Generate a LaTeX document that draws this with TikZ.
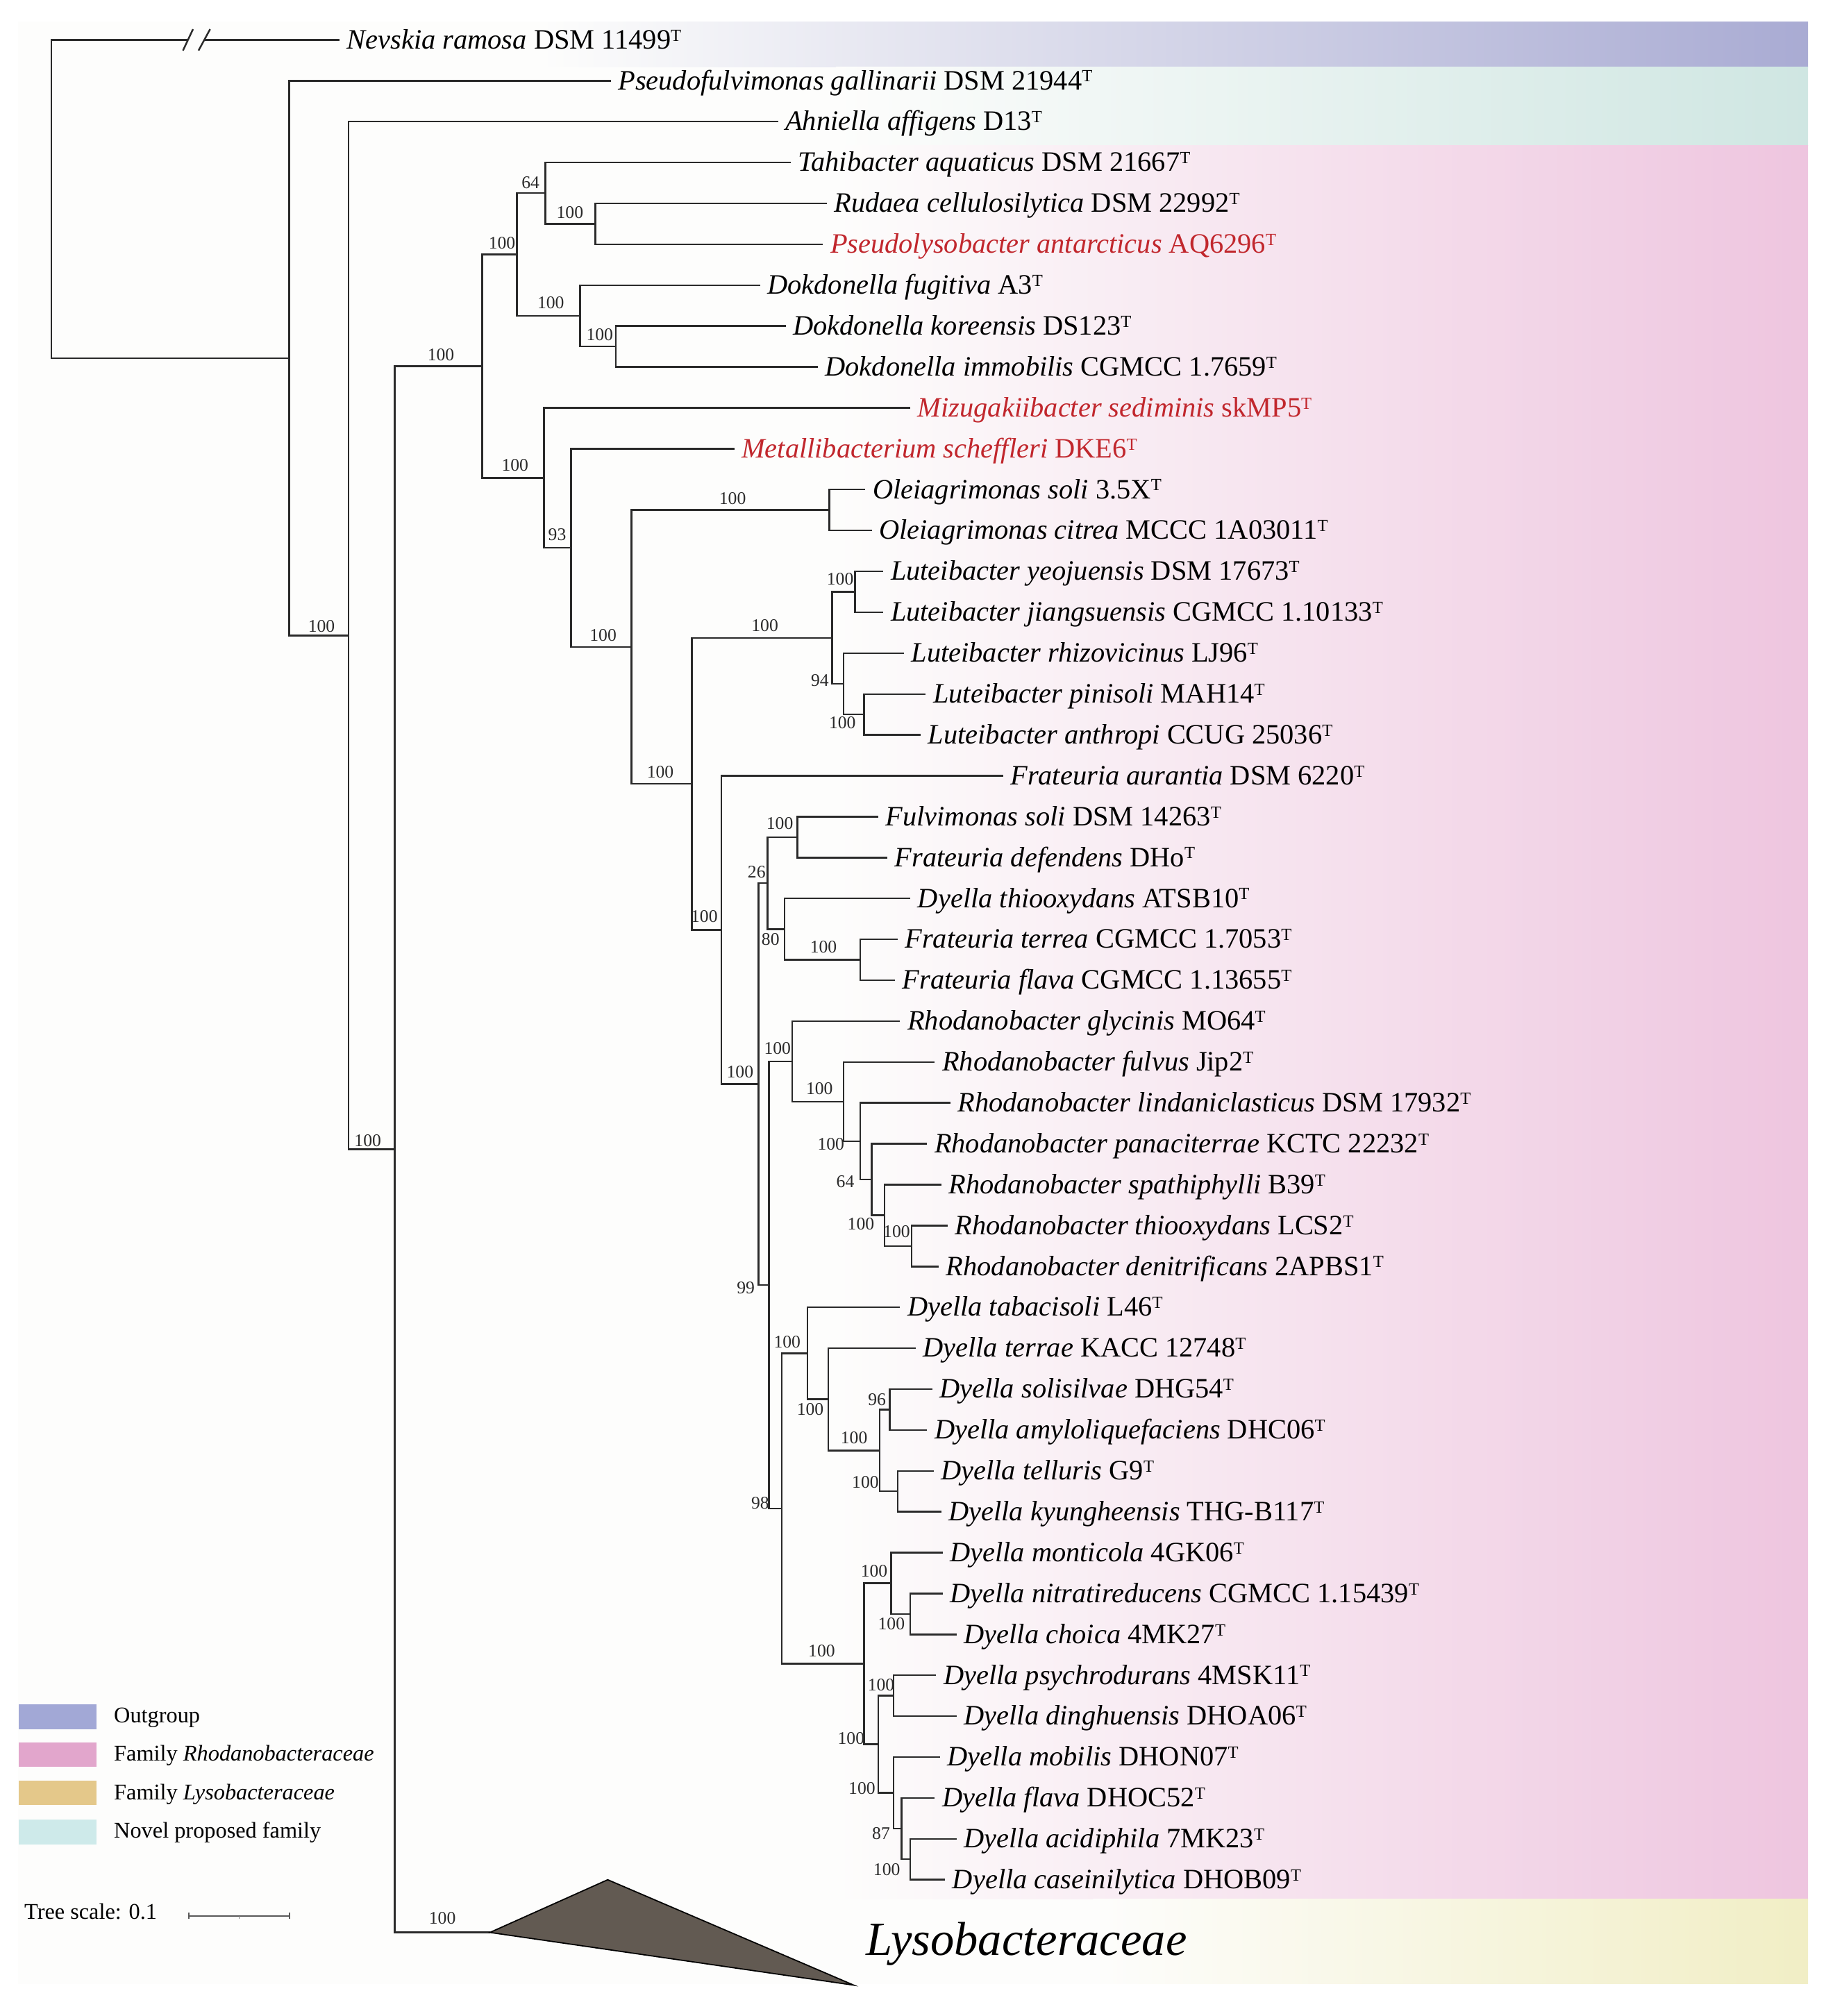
\documentclass[tikz,border=0pt]{standalone}
\usepackage{fontspec}
\setmainfont{Liberation Serif}
\usetikzlibrary{calc}
\definecolor{bgw}{HTML}{FDFDFC}
\definecolor{outc}{HTML}{A9ABD3}
\definecolor{novc}{HTML}{CFE6E2}
\definecolor{pinkc}{HTML}{EEC5DF}
\definecolor{yelc}{HTML}{F1EEC5}
\definecolor{legout}{HTML}{A2A8D6}
\definecolor{legpink}{HTML}{E2A6CC}
\definecolor{legtan}{HTML}{E4C88A}
\definecolor{legnov}{HTML}{CEEAEA}
\definecolor{redlab}{HTML}{C1272D}
\definecolor{triC}{HTML}{625A52}
\definecolor{brc}{HTML}{2A2A2A}
\tikzset{
  br/.style={draw=brc, line width=0.7pt},
  leaflab/.style={anchor=base west, inner sep=0pt, xshift=0.1cm, yshift=-0.128cm,
    font=\fontsize{11.5}{13}\selectfont},
  bslab/.style={inner sep=0pt, font=\fontsize{7.3}{8}\selectfont, text=brc},
  legtxt/.style={anchor=base west, inner sep=0pt, font=\fontsize{9.2}{11}\selectfont},
}
\newcommand\leafitem[5]{%
  \coordinate (#1) at (#2,#3);
  \node[leaflab,text=#4] (t#1) at (#1) {#5};}
\newcommand\bsl[4]{\node[bslab] (b#1) at (#2,#3) {#4};}
\newcommand\brn[2]{\draw[br] (#1) |- (#2);}
\newcommand\spn[2]{\textit{#1} #2\raisebox{0.6ex}{\fontsize{7}{8}\selectfont T}}
\begin{document}
\begin{tikzpicture}[x=0.018521cm, y=-0.018521cm]
\useasboundingbox (0,0) rectangle (1420,1568);
% backgrounds
\fill[bgw] (14,17) rectangle (1406,1543);
\shade[left color=bgw, right color=outc] (420,17) rectangle (1406,52);
\shade[left color=bgw, right color=novc] (650,52) rectangle (1406,113);
\shade[left color=bgw, right color=pinkc] (650,113) rectangle (1406,1477);
\shade[left color=bgw, right color=yelc] (850,1477) rectangle (1406,1543);

% internal nodes
\coordinate (root) at (40,154.8);
\coordinate (nA) at (225,278.5);
\coordinate (nB) at (271,494.3);
\coordinate (nC) at (307,893.9);
\coordinate (nD) at (375,284.8);
\coordinate (nE) at (402,197.95);
\coordinate (nG) at (424,150.25);
\coordinate (nH) at (463,174.1);
\coordinate (nI) at (451,245.65);
\coordinate (nJ) at (479,269.5);
\coordinate (nF) at (423,371.65);
\coordinate (nK) at (444,426.1);
\coordinate (nL) at (491,503.2);
\coordinate (nM) at (645,396.7);
\coordinate (nN) at (538,609.7);
\coordinate (nO) at (647,496.1);
\coordinate (nP) at (665,460.3);
\coordinate (nQ) at (656,531.85);
\coordinate (nR) at (672,555.7);
\coordinate (nS) at (561,723.3);
\coordinate (nT) at (590,843.15);
\coordinate (nV) at (597,686.9);
\coordinate (nW) at (620,651.1);
\coordinate (nX) at (610,722.65);
\coordinate (nY) at (669,746.5);
\coordinate (nU) at (598,999.4);
\coordinate (nBA) at (616,825.5);
\coordinate (nBB) at (656,856.8);
\coordinate (nBC) at (669,887.6);
\coordinate (nBD) at (678,917.4);
\coordinate (nBE) at (688,945.25);
\coordinate (nBF) at (709,969.1);
\coordinate (nZ) at (608,1173.3);
\coordinate (nAA) at (628,1052.6);
\coordinate (nAB) at (644,1088.35);
\coordinate (nAC) at (684,1128.1);
\coordinate (nAD) at (692,1096.3);
\coordinate (nAE) at (698,1159.9);
\coordinate (nAF) at (672,1294.05);
\coordinate (nAG) at (693,1231.45);
\coordinate (nAH) at (708,1255.3);
\coordinate (nAI) at (683,1356.65);
\coordinate (nAJ) at (695,1318.9);
\coordinate (nAK) at (695,1394.4);
\coordinate (nAL) at (701,1422.25);
\coordinate (nAM) at (708,1446.1);
\coordinate (lyso) at (381,1503);

% leaves
\leafitem{l1}{264}{31.0}{black}{\spn{Nevskia ramosa}{DSM 11499}}
\leafitem{l2}{475}{62.8}{black}{\spn{Pseudofulvimonas gallinarii}{DSM 21944}}
\leafitem{l3}{605}{94.6}{black}{\spn{Ahniella affigens}{D13}}
\leafitem{l4}{615}{126.4}{black}{\spn{Tahibacter aquaticus}{DSM 21667}}
\leafitem{l5}{643}{158.2}{black}{\spn{Rudaea cellulosilytica}{DSM 22992}}
\leafitem{l6}{640}{190.0}{redlab}{\spn{Pseudolysobacter antarcticus}{AQ6296}}
\leafitem{l7}{591}{221.8}{black}{\spn{Dokdonella fugitiva}{A3}}
\leafitem{l8}{611}{253.6}{black}{\spn{Dokdonella koreensis}{DS123}}
\leafitem{l9}{636}{285.4}{black}{\spn{Dokdonella immobilis}{CGMCC 1.7659}}
\leafitem{l10}{708}{317.2}{redlab}{\spn{Mizugakiibacter sediminis}{skMP5}}
\leafitem{l11}{571}{349.0}{redlab}{\spn{Metallibacterium scheffleri}{DKE6}}
\leafitem{l12}{673}{380.8}{black}{\spn{Oleiagrimonas soli}{3.5X}}
\leafitem{l13}{678}{412.6}{black}{\spn{Oleiagrimonas citrea}{MCCC 1A03011}}
\leafitem{l14}{687}{444.4}{black}{\spn{Luteibacter yeojuensis}{DSM 17673}}
\leafitem{l15}{687}{476.2}{black}{\spn{Luteibacter jiangsuensis}{CGMCC 1.10133}}
\leafitem{l16}{703}{508.0}{black}{\spn{Luteibacter rhizovicinus}{LJ96}}
\leafitem{l17}{720}{539.8}{black}{\spn{Luteibacter pinisoli}{MAH14}}
\leafitem{l18}{716}{571.6}{black}{\spn{Luteibacter anthropi}{CCUG 25036}}
\leafitem{l19}{780}{603.4}{black}{\spn{Frateuria aurantia}{DSM 6220}}
\leafitem{l20}{683}{635.2}{black}{\spn{Fulvimonas soli}{DSM 14263}}
\leafitem{l21}{690}{667.0}{black}{\spn{Frateuria defendens}{DHo}}
\leafitem{l22}{708}{698.8}{black}{\spn{Dyella thiooxydans}{ATSB10}}
\leafitem{l23}{698}{730.6}{black}{\spn{Frateuria terrea}{CGMCC 1.7053}}
\leafitem{l24}{696}{762.4}{black}{\spn{Frateuria flava}{CGMCC 1.13655}}
\leafitem{l25}{700}{794.2}{black}{\spn{Rhodanobacter glycinis}{MO64}}
\leafitem{l26}{727}{826.0}{black}{\spn{Rhodanobacter fulvus}{Jip2}}
\leafitem{l27}{739}{857.8}{black}{\spn{Rhodanobacter lindaniclasticus}{DSM 17932}}
\leafitem{l28}{721}{889.6}{black}{\spn{Rhodanobacter panaciterrae}{KCTC 22232}}
\leafitem{l29}{732}{921.4}{black}{\spn{Rhodanobacter spathiphylli}{B39}}
\leafitem{l30}{737}{953.2}{black}{\spn{Rhodanobacter thiooxydans}{LCS2}}
\leafitem{l31}{730}{985.0}{black}{\spn{Rhodanobacter denitrificans}{2APBS1}}
\leafitem{l32}{700}{1016.8}{black}{\spn{Dyella tabacisoli}{L46}}
\leafitem{l33}{712}{1048.6}{black}{\spn{Dyella terrae}{KACC 12748}}
\leafitem{l34}{725}{1080.4}{black}{\spn{Dyella solisilvae}{DHG54}}
\leafitem{l35}{721}{1112.2}{black}{\spn{Dyella amyloliquefaciens}{DHC06}}
\leafitem{l36}{726}{1144.0}{black}{\spn{Dyella telluris}{G9}}
\leafitem{l37}{732}{1175.8}{black}{\spn{Dyella kyungheensis}{THG-B117}}
\leafitem{l38}{733}{1207.6}{black}{\spn{Dyella monticola}{4GK06}}
\leafitem{l39}{733}{1239.4}{black}{\spn{Dyella nitratireducens}{CGMCC 1.15439}}
\leafitem{l40}{744}{1271.2}{black}{\spn{Dyella choica}{4MK27}}
\leafitem{l41}{728}{1303.0}{black}{\spn{Dyella psychrodurans}{4MSK11}}
\leafitem{l42}{744}{1334.8}{black}{\spn{Dyella dinghuensis}{DHOA06}}
\leafitem{l43}{731}{1366.6}{black}{\spn{Dyella mobilis}{DHON07}}
\leafitem{l44}{727}{1398.4}{black}{\spn{Dyella flava}{DHOC52}}
\leafitem{l45}{744}{1430.2}{black}{\spn{Dyella acidiphila}{7MK23}}
\leafitem{l46}{735}{1462.0}{black}{\spn{Dyella caseinilytica}{DHOB09}}

% root to Nevskia with break
\coordinate (brk1) at (146.2,31);
\coordinate (brk2) at (158.9,31);
\draw[br] (root) |- (brk1);
\draw[br] (brk2) -- (l1);
\draw[br] ($(brk1)+(-3.9,8.3)$) -- ($(brk1)+(3.9,-8.3)$);
\draw[br] ($(brk2)+(-4.5,8.3)$) -- ($(brk2)+(4.5,-8.3)$);

% branches
\brn{root}{nA}
\brn{nA}{l2} \brn{nA}{nB}
\brn{nB}{l3} \brn{nB}{nC}
\brn{nC}{nD} \brn{nC}{lyso}
\brn{nD}{nE} \brn{nD}{nF}
\brn{nE}{nG} \brn{nE}{nI}
\brn{nG}{l4} \brn{nG}{nH}
\brn{nH}{l5} \brn{nH}{l6}
\brn{nI}{l7} \brn{nI}{nJ}
\brn{nJ}{l8} \brn{nJ}{l9}
\brn{nF}{l10} \brn{nF}{nK}
\brn{nK}{l11} \brn{nK}{nL}
\brn{nL}{nM} \brn{nL}{nN}
\brn{nM}{l12} \brn{nM}{l13}
\brn{nN}{nO} \brn{nN}{nS}
\brn{nO}{nP} \brn{nO}{nQ}
\brn{nP}{l14} \brn{nP}{l15}
\brn{nQ}{l16} \brn{nQ}{nR}
\brn{nR}{l17} \brn{nR}{l18}
\brn{nS}{l19} \brn{nS}{nT}
\brn{nT}{nV} \brn{nT}{nU}
\brn{nV}{nW} \brn{nV}{nX}
\brn{nW}{l20} \brn{nW}{l21}
\brn{nX}{l22} \brn{nX}{nY}
\brn{nY}{l23} \brn{nY}{l24}
\brn{nU}{nBA} \brn{nU}{nZ}
\brn{nBA}{l25} \brn{nBA}{nBB}
\brn{nBB}{l26} \brn{nBB}{nBC}
\brn{nBC}{l27} \brn{nBC}{nBD}
\brn{nBD}{l28} \brn{nBD}{nBE}
\brn{nBE}{l29} \brn{nBE}{nBF}
\brn{nBF}{l30} \brn{nBF}{l31}
\brn{nZ}{nAA} \brn{nZ}{nAF}
\brn{nAA}{l32} \brn{nAA}{nAB}
\brn{nAB}{l33} \brn{nAB}{nAC}
\brn{nAC}{nAD} \brn{nAC}{nAE}
\brn{nAD}{l34} \brn{nAD}{l35}
\brn{nAE}{l36} \brn{nAE}{l37}
\brn{nAF}{nAG} \brn{nAF}{nAI}
\brn{nAG}{l38} \brn{nAG}{nAH}
\brn{nAH}{l39} \brn{nAH}{l40}
\brn{nAI}{nAJ} \brn{nAI}{nAK}
\brn{nAJ}{l41} \brn{nAJ}{l42}
\brn{nAK}{l43} \brn{nAK}{nAL}
\brn{nAL}{l44} \brn{nAL}{nAM}
\brn{nAM}{l45} \brn{nAM}{l46}

% collapsed clade
\coordinate (triT) at (472.6,1462);
\coordinate (triB) at (664,1544);
\filldraw[fill=triC, draw=black, line width=0.5pt] (lyso) -- (triT) -- (triB) -- cycle;
\node[anchor=base west, inner sep=0pt, font=\fontsize{19.5}{22}\selectfont\itshape] (lysolab) at (673,1521) {Lysobacteraceae};

% bootstrap values
\bsl{B}{250}{487}{100}
\bsl{C}{286}{887}{100}
\bsl{D}{342.9}{275.7}{100}
\bsl{E}{390.4}{189.2}{100}
\bsl{G}{412.6}{142.3}{64}
\bsl{H}{443.2}{165.4}{100}
\bsl{I}{428.3}{235.4}{100}
\bsl{J}{466.4}{260.2}{100}
\bsl{F}{400.5}{361.9}{100}
\bsl{K}{433.3}{415.6}{93}
\bsl{L}{469}{494}{100}
\bsl{M}{569.7}{387.6}{100}
\bsl{N}{513.5}{600.3}{100}
\bsl{O}{594.8}{486.8}{100}
\bsl{P}{653.4}{450.5}{100}
\bsl{Q}{637.6}{529}{94}
\bsl{R}{655.1}{562.2}{100}
\bsl{S}{547.7}{712.9}{100}
\bsl{T}{575.5}{833.5}{100}
\bsl{V}{588.4}{678}{26}
\bsl{W}{606.4}{640.4}{100}
\bsl{X}{599.2}{730.8}{80}
\bsl{Y}{640.4}{736.5}{100}
\bsl{U}{580}{1001.5}{99}
\bsl{BA}{604.6}{815.6}{100}
\bsl{BB}{637.3}{846.5}{100}
\bsl{BC}{646.2}{890}{100}
\bsl{BD}{657.4}{918.9}{64}
\bsl{BE}{669.5}{952}{100}
\bsl{BF}{697.3}{958}{100}
\bsl{Z}{591.2}{1168.8}{98}
\bsl{AA}{612.2}{1043.9}{100}
\bsl{AB}{630.1}{1096}{100}
\bsl{AC}{664.2}{1118.3}{100}
\bsl{AD}{682}{1088.8}{96}
\bsl{AE}{673}{1153}{100}
\bsl{AF}{639}{1284}{100}
\bsl{AG}{679.8}{1222}{100}
\bsl{AH}{693.2}{1263}{100}
\bsl{AI}{661.9}{1352.3}{100}
\bsl{AJ}{685.2}{1310.4}{100}
\bsl{AK}{670.3}{1391}{100}
\bsl{AL}{685.2}{1426}{87}
\bsl{AM}{689.6}{1453.9}{100}
\bsl{LY}{344}{1492}{100}

% legend
\fill[legout] (14.6,1325.6) rectangle (75.3,1345);
\fill[legpink] (14.6,1355) rectangle (75.3,1374);
\fill[legtan] (14.6,1385) rectangle (75.3,1404);
\fill[legnov] (14.6,1415) rectangle (75.3,1434.6);
\node[legtxt] (lg1) at (88.3,1339.6) {Outgroup};
\node[legtxt] (lg2) at (88.3,1369.6) {Family \textit{Rhodanobacteraceae}};
\node[legtxt] (lg3) at (88.3,1399.6) {Family \textit{Lysobacteraceae}};
\node[legtxt] (lg4) at (88.3,1429.6) {Novel proposed family};

% tree scale
\node[legtxt] (ts) at (18.6,1492.5) {Tree scale: 0.1};
\coordinate (sb1) at (147,1490);
\coordinate (sb2) at (225,1490);
\draw[draw=black!65, line width=0.6pt] (sb1) -- (sb2);
\draw[draw=black!65, line width=0.6pt] ($(sb1)+(0,-2.5)$) -- ($(sb1)+(0,2.5)$);
\draw[draw=black!65, line width=0.6pt] ($(sb2)+(0,-2.5)$) -- ($(sb2)+(0,2.5)$);
\draw[draw=black!50, line width=0.4pt] ($(sb1)!0.5!(sb2)$) -- ++(0,2.5);
\end{tikzpicture}
\end{document}
